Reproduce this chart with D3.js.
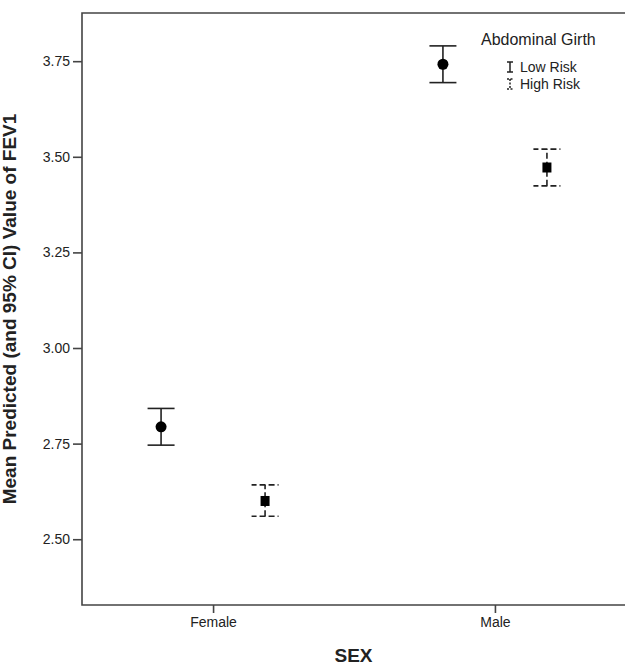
<!DOCTYPE html>
<html lang="en">
<head>
<meta charset="UTF-8">
<title>FEV1 by sex and abdominal girth</title>
<style>
  body { margin: 0; background: #fff; }
  svg text { font-family: Arial, "Liberation Sans", sans-serif; fill: #222; }
</style>
</head>
<body>
<div id="chart"></div>
<script src="https://d3js.org/d3.v7.min.js"></script>
<script>
// data
const sexes = ["Female", "Male"];
const riskGroups = ["Low Risk", "High Risk"];
const means = {
  "Female": [2.794, 2.600],
  "Male":   [3.742, 3.472]
};
const lowerCI = {
  "Female": [2.746, 2.560],
  "Male":   [3.694, 3.424]
};
const upperCI = {
  "Female": [2.842, 2.642],
  "Male":   [3.790, 3.520]
};
const yTicks = [2.50, 2.75, 3.00, 3.25, 3.50, 3.75];

const width = 625, height = 665;
const margin = { top: 13, right: 0, bottom: 60, left: 82 };

const svg = d3.select("#chart").append("svg")
    .attr("width", width)
    .attr("height", height);

const y = d3.scaleLinear()
    .domain([2.328, 3.876])
    .range([height - margin.bottom, margin.top]);

const x = d3.scalePoint()
    .domain(sexes)
    .range([margin.left, 626])
    .padding(0.465);

const dodge = d3.scalePoint()
    .domain(riskGroups)
    .range([-52, 52]);

// frame (left, top, bottom)
const frame = svg.append("g");
frame.append("path")
    .attr("d", `M${width + 2},${margin.top}H${margin.left}V${height - margin.bottom}H${width + 2}`)
    .attr("fill", "none")
    .attr("stroke", "#444")
    .attr("stroke-width", 1.6);

// y axis
const yAxis = svg.append("g")
    .attr("transform", `translate(${margin.left},0)`)
    .call(d3.axisLeft(y).tickValues(yTicks).tickFormat(d3.format(".2f")).tickSize(9).tickPadding(3));
yAxis.select(".domain").remove();
yAxis.selectAll("line").attr("stroke", "#444").attr("stroke-width", 1.6);
yAxis.selectAll("text").style("font-size", "14px").attr("fill", "#222");

// x axis
const xAxis = svg.append("g")
    .attr("transform", `translate(0,${height - margin.bottom})`)
    .call(d3.axisBottom(x).tickSize(8).tickPadding(4));
xAxis.select(".domain").remove();
xAxis.selectAll("line").attr("stroke", "#444").attr("stroke-width", 1.6);
xAxis.selectAll("text").style("font-size", "14px").attr("fill", "#222");

// axis titles
svg.append("text")
    .attr("x", (margin.left + width) / 2)
    .attr("y", 662)
    .attr("text-anchor", "middle")
    .style("font-size", "19px")
    .style("font-weight", "bold")
    .text("SEX");

svg.append("text")
    .attr("transform", `translate(16,${(margin.top + height - margin.bottom) / 2}) rotate(-90)`)
    .attr("text-anchor", "middle")
    .style("font-size", "19px")
    .style("font-weight", "bold")
    .text("Mean Predicted (and 95% CI) Value of FEV1");

// error bars
const rows = [];
sexes.forEach(s => riskGroups.forEach((g, i) => {
  rows.push({ sex: s, group: g, i: i, mean: means[s][i], lo: lowerCI[s][i], hi: upperCI[s][i] });
}));

const bars = svg.selectAll(".bar")
    .data(rows)
    .enter()
    .append("g")
    .attr("class", "bar")
    .attr("transform", d => `translate(${x(d.sex) + dodge(d.group)},0)`);

const capW = 13.5;
bars.append("line")
    .attr("y1", d => y(d.lo))
    .attr("y2", d => y(d.hi))
    .attr("stroke", "#222")
    .attr("stroke-width", 1.6)
    .attr("stroke-dasharray", d => d.i === 1 ? "6,3" : null);
bars.selectAll(".cap")
    .data(d => [d.lo, d.hi].map(v => ({ v: v, i: d.i })))
    .enter()
    .append("line")
    .attr("x1", -capW)
    .attr("x2", capW)
    .attr("y1", d => y(d.v))
    .attr("y2", d => y(d.v))
    .attr("stroke", "#222")
    .attr("stroke-width", 1.6)
    .attr("stroke-dasharray", d => d.i === 1 ? "6,3" : null)
    .attr("stroke-dashoffset", d => d.i === 1 ? 1 : null);

bars.filter(d => d.i === 0).append("circle")
    .attr("cy", d => y(d.mean))
    .attr("r", 5.5)
    .attr("fill", "#000");
bars.filter(d => d.i === 1).append("rect")
    .attr("x", -4.5)
    .attr("y", d => y(d.mean) - 5)
    .attr("width", 9)
    .attr("height", 10)
    .attr("fill", "#000");

// legend
const legend = svg.append("g");
legend.append("text")
    .attr("x", 481)
    .attr("y", 45)
    .style("font-size", "16px")
    .text("Abdominal Girth");

const legItems = legend.selectAll(".leg")
    .data(riskGroups)
    .enter()
    .append("g")
    .attr("class", "leg")
    .attr("transform", (d, i) => `translate(510,${67 + i * 17})`);
legItems.append("path")
    .attr("d", "M-3,-5H3M0,-5V5M-3,5H3")
    .attr("fill", "none")
    .attr("stroke", "#222")
    .attr("stroke-width", 1.5)
    .attr("stroke-dasharray", (d, i) => i === 1 ? "2,1.5" : null);
legItems.append("text")
    .attr("x", 10)
    .attr("y", 5)
    .style("font-size", "14px")
    .text(d => d);
</script>
</body>
</html>
